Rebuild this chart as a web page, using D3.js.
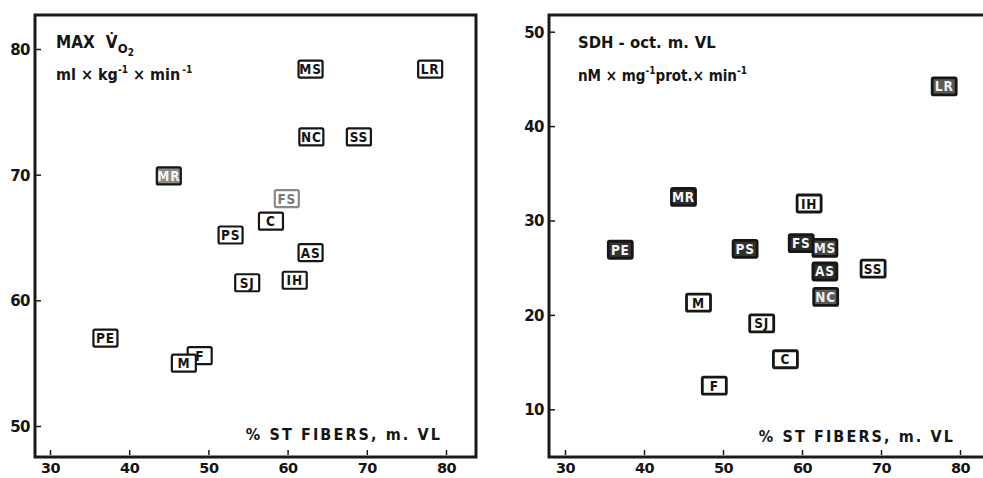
<!DOCTYPE html>
<html><head><meta charset="utf-8">
<script src="https://cdn.jsdelivr.net/npm/d3@7/dist/d3.min.js"></script>
<style>
html,body{margin:0;padding:0;background:#fff;overflow:hidden;}
svg{display:block;}
text{font-family:"DejaVu Sans Condensed","DejaVu Sans",sans-serif;font-weight:bold;fill:#151515;}
.tick text{font-family:"DejaVu Sans",sans-serif;}
</style></head>
<body>
<svg id="chart" width="983" height="478"></svg>
<script>
// ---- data ----
const subjects = ["LR","NC","SS","MR","FS","MS","C","PS","AS","SJ","IH","PE","F","M"];
const stFibers = [78.0, 63.0, 69.0, 45.0, 59.9, 62.9, 57.9, 52.8, 62.9, 54.9, 60.9, 37.0, 48.9, 46.9];
const vo2Max   = [78.4, 73.0, 73.0, 69.9, 68.1, 78.4, 66.3, 65.2, 63.8, 61.4, 61.6, 57.0, 55.6, 55.0];
const sdhAct   = [44.2, 21.9, 24.9, 32.5, 27.6, 27.1, 15.3, 27.0, 24.6, 19.1, 31.8, 26.9, 12.5, 21.3];
const xTicks = [30, 40, 50, 60, 70, 80];
const yTicksLeft = [50, 60, 70, 80];
const yTicksRight = [10, 20, 30, 40, 50];
const xLabel = "% ST FIBERS, m. VL";

// print-appearance of the scanned boxes (style only)
const looksLeft  = {MR:{fill:"#8a8a8a", text:"#f4f4f4"}, FS:{stroke:"#8a8a8a", text:"#777"}};
const looksRight = {
  MR:{fill:"#2b2b2b", text:"#f4f4f4"}, PS:{fill:"#333", text:"#f4f4f4"},
  FS:{fill:"#2b2b2b", text:"#f4f4f4"}, AS:{fill:"#2b2b2b", text:"#f4f4f4"},
  NC:{fill:"#5a5a5a", text:"#eee"}, LR:{fill:"#5a5a5a", text:"#eee"},
  PE:{fill:"#333", text:"#f4f4f4"}, MS:{fill:"#444", text:"#eee"}
};

const svg = d3.select("#chart");

function panel(cfg){
  const g = svg.append("g");
  const x = d3.scaleLinear().domain([30,80]).range(cfg.xr);
  const y = d3.scaleLinear().domain(cfg.yd).range(cfg.yr);
  const f = cfg.frame; // [left, top, right, bottom]
  g.append("path")
    .attr("d", `M${f[0]},${f[3]} L${f[0]},${f[1]} L${f[2]},${f[1]} L${f[2]},${f[3]} Z`)
    .attr("fill","none").attr("stroke","#1a1a1a").attr("stroke-width",3);
  const ya = g.append("g").attr("transform",`translate(${f[0]},0)`)
    .call(d3.axisRight(y).tickValues(cfg.yTicks).tickSize(6).tickFormat(d3.format("d")));
  ya.select(".domain").remove();
  ya.selectAll("line").attr("stroke","#1a1a1a").attr("stroke-width",1.5);
  ya.selectAll("text").attr("x",-5).attr("text-anchor","end").attr("dy","0.36em")
    .style("font-size","15px").style("letter-spacing","-0.5px");
  const xa = g.append("g").attr("transform",`translate(0,${f[3]})`)
    .call(d3.axisTop(x).tickValues(xTicks).tickSize(6).tickFormat(d3.format("d")));
  xa.select(".domain").remove();
  xa.selectAll("line").attr("stroke","#1a1a1a").attr("stroke-width",1.5).attr("y1",-2).attr("y2",-7);
  xa.selectAll("text").attr("y",16).attr("dy",0).style("font-size","14.5px").style("letter-spacing","-0.5px");
  g.append("text").attr("x",cfg.xlab[0]).attr("y",cfg.xlab[1])
    .attr("text-anchor","end").style("font-size","16px").style("letter-spacing","2.1px")
    .text(xLabel);
  cfg.titles(g);
  const bw = 24, bh = 17;
  const pts = g.selectAll("g.pt").data(subjects.map((s,i)=>({s, x:stFibers[i], y:cfg.values[i]})))
    .join("g").attr("class","pt")
    .attr("transform", d=>`translate(${x(d.x)},${y(d.y)})`);
  pts.append("rect").attr("x",-bw/2).attr("y",-bh/2).attr("width",bw).attr("height",bh)
    .attr("rx",1.5)
    .attr("fill",d=>(cfg.looks[d.s]||{}).fill||"#fff")
    .attr("stroke",d=>(cfg.looks[d.s]||{}).stroke||"#161616")
    .attr("stroke-width",cfg.bstroke);
  pts.append("text").attr("text-anchor","middle").attr("dy","0.37em")
    .style("font-size","13.5px").style("letter-spacing","0.8px")
    .style("fill",d=>(cfg.looks[d.s]||{}).text||"#151515")
    .text(d=>d.s);
}

panel({
  xr:[50,446], yd:[50,80], yr:[426,49], frame:[35,15,476,457],
  yTicks: yTicksLeft, values: vo2Max, xlab:[442,440], looks: looksLeft, bstroke:2.2,
  titles: g=>{
    const t1 = g.append("text").attr("x",56).attr("y",48).style("font-size","17px");
    t1.append("tspan").text("MAX");
    t1.append("tspan").attr("dx",11).text("V\u0307");
    t1.append("tspan").attr("dy",5).style("font-size","13px").text("O");
    t1.append("tspan").attr("dy",3).style("font-size","10px").text("2");
    const t2 = g.append("text").attr("x",56).attr("y",80).style("font-size","16px");
    t2.append("tspan").text("ml \u00d7 kg");
    t2.append("tspan").attr("dy",-7).style("font-size","10px").text("-1");
    t2.append("tspan").attr("dy",7).text(" \u00d7  min");
    t2.append("tspan").attr("dy",-7).attr("dx",2).style("font-size","10px").text("-1");
  }
});

panel({
  xr:[565,960], yd:[10,50], yr:[409.3,31.7], frame:[549,15,1000,457],
  yTicks: yTicksRight, values: sdhAct, xlab:[955,442], looks: looksRight, bstroke:2.8,
  titles: g=>{
    const t1 = g.append("text").attr("x",578).attr("y",48).style("font-size","16.5px");
    t1.append("tspan").text("SDH - oct.");
    t1.append("tspan").attr("dx",6).text("m.");
    t1.append("tspan").attr("dx",6).text("VL");
    const t2 = g.append("text").attr("x",578).attr("y",81).style("font-size","15px");
    t2.append("tspan").text("nM \u00d7 mg");
    t2.append("tspan").attr("dy",-7).style("font-size","10px").text("-1");
    t2.append("tspan").attr("dy",7).text("prot.\u00d7 min");
    t2.append("tspan").attr("dy",-7).style("font-size","10px").text("-1");
  }
});
</script>
</body></html>
